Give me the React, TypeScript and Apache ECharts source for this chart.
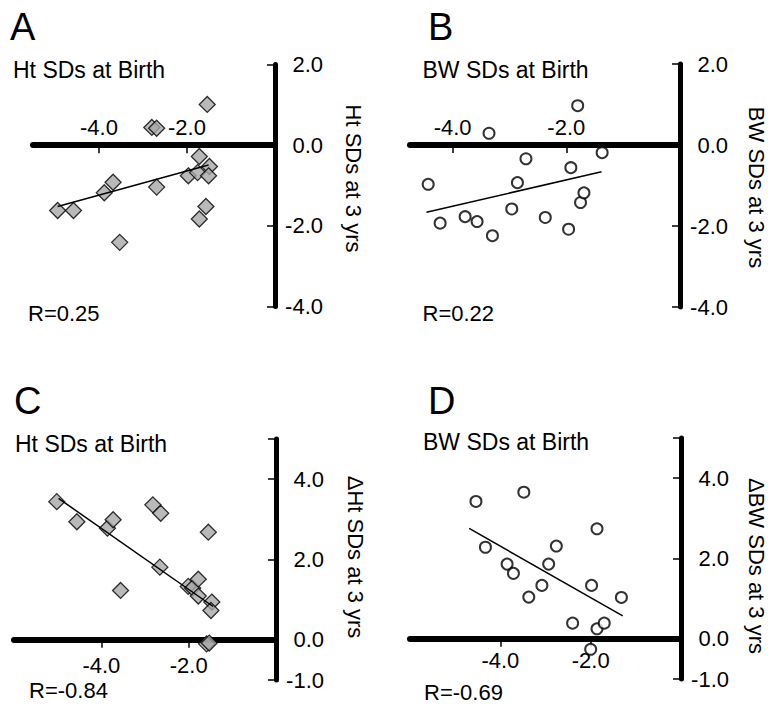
import React, { useEffect, useRef } from "react";
import * as echarts from "echarts";

// Panel A: Ht SDs at Birth vs Ht SDs at 3 yrs
const aX = [-4.94, -4.58, -3.88, -3.68, -3.53, -2.8, -2.69, -2.69, -1.97, -1.72, -1.76, -1.49, -1.51, -1.54, -1.57, -1.72];
const aY = [-1.62, -1.62, -1.18, -0.92, -2.41, 0.44, 0.42, -1.04, -0.76, -0.28, -0.68, -0.53, -0.76, 1.01, -1.52, -1.83];
const aFitX = [-4.94, -1.51];
const aFitY = [-1.52, -0.49];

// Panel B: BW SDs at Birth vs BW SDs at 3 yrs
const bX = [-4.43, -4.22, -3.78, -3.57, -3.36, -3.3, -2.96, -2.86, -2.71, -2.37, -1.96, -1.92, -1.8, -1.75, -1.69, -1.37];
const bY = [-0.97, -1.93, -1.77, -1.89, 0.29, -2.24, -1.58, -0.93, -0.34, -1.79, -2.08, -0.56, 0.97, -1.42, -1.18, -0.19];
const bFitX = [-4.46, -1.38];
const bFitY = [-1.66, -0.66];

// Panel C: Ht SDs at Birth vs ΔHt SDs at 3 yrs
const cX = [-5.02, -4.56, -3.86, -3.73, -3.56, -2.82, -2.64, -2.66, -2.01, -1.91, -1.78, -1.78, -1.55, -1.47, -1.49, -1.59, -1.53];
const cY = [3.44, 2.94, 2.78, 2.99, 1.23, 3.36, 3.15, 1.81, 1.33, 1.29, 1.51, 1.09, 2.68, 0.94, 0.73, -0.1, -0.08];
const cFitX = [-4.98, -1.44];
const cFitY = [3.52, 0.83];

// Panel D: BW SDs at Birth vs ΔBW SDs at 3 yrs
const dX = [-4.54, -4.33, -3.85, -3.71, -3.48, -3.37, -3.08, -2.93, -2.76, -2.4, -2.0, -1.98, -1.86, -1.86, -1.7, -1.32];
const dY = [3.42, 2.28, 1.86, 1.63, 3.65, 1.04, 1.33, 1.86, 2.31, 0.39, -0.26, 1.33, 2.74, 0.25, 0.39, 1.03];
const dFitX = [-4.69, -1.29];
const dFitY = [2.75, 0.57];

// Axis ranges, ticks and labels
const xMins = [-5.5, -4.75, -6, -6];
const yRangeTop = [-4, 2];
const yRangeBottom = [-1, 5];
const xTicks = [-4, -2];
const yTicksTop = [-4, -2, 0, 2];
const yLabelsTop = [-4, -2, 0, 2];
const yTicksBottom = [-1, 0, 2, 4, 5];
const yLabelsBottom = [-1, 0, 2, 4];

const FONT = "'Liberation Sans', Arial, Helvetica, sans-serif";

const zip = (xs: number[], ys: number[]) => xs.map((x, i) => [x, ys[i]]);

export default function App() {
  const ref = useRef<HTMLDivElement>(null);
  useEffect(() => {
    if (!ref.current) return;
    const chart = echarts.init(ref.current, undefined, { renderer: "svg" });

    const fmt = (v: number) => v.toFixed(1);

    const grids = [
      { left: 33, top: 64.5, width: 242, height: 242 },
      { left: 410, top: 64, width: 270, height: 243 },
      { left: 14, top: 439, width: 262, height: 241 },
      { left: 410, top: 438, width: 271, height: 241 },
    ];
    const xInside = [true, true, false, false];
    const xMargins = [7, 7, 15, 11];

    const xAxes = grids.map((g, i) => {
      const yr = i < 2 ? yRangeTop : yRangeBottom;
      // move the bottom axis up to y = 0
      const offset = -(g.height * (0 - yr[0])) / (yr[1] - yr[0]);
      return {
        gridIndex: i,
        type: "value",
        min: xMins[i],
        max: 0,
        position: "bottom",
        offset,
        axisLine: { show: true, onZero: false, lineStyle: { color: "#000", width: 6 } },
        axisTick: {
          show: true,
          inside: false,
          length: 8,
          customValues: xTicks,
          lineStyle: { color: "#000", width: 1.5 },
        },
        axisLabel: {
          show: true,
          inside: xInside[i],
          margin: xMargins[i],
          customValues: xTicks,
          formatter: fmt,
          color: "#000",
          fontSize: 22,
          fontFamily: FONT,
        },
        splitLine: { show: false },
      };
    });

    const yAxes = grids.map((_, i) => {
      const top = i < 2;
      const yr = top ? yRangeTop : yRangeBottom;
      return {
        gridIndex: i,
        type: "value",
        min: yr[0],
        max: yr[1],
        position: "right",
        axisLine: { show: true, onZero: false, lineStyle: { color: "#000", width: 5 } },
        axisTick: {
          show: true,
          inside: true,
          length: 8,
          customValues: top ? yTicksTop : yTicksBottom,
          lineStyle: { color: "#000", width: 1.5 },
        },
        axisLabel: {
          show: true,
          customValues: top ? yLabelsTop : yLabelsBottom,
          formatter: fmt,
          align: "right",
          margin: 48,
          color: "#000",
          fontSize: 22,
          fontFamily: FONT,
        },
        splitLine: { show: false },
      };
    });

    const diamondStyle = { color: "#a8a8a8", borderColor: "#000", borderWidth: 1.3 };
    const circleStyle = { color: "#fff", borderColor: "#000", borderWidth: 2 };

    const panels = [
      { xs: aX, ys: aY, fx: aFitX, fy: aFitY, symbol: "diamond", size: 16, style: diamondStyle },
      { xs: bX, ys: bY, fx: bFitX, fy: bFitY, symbol: "circle", size: 11, style: circleStyle },
      { xs: cX, ys: cY, fx: cFitX, fy: cFitY, symbol: "diamond", size: 16, style: diamondStyle },
      { xs: dX, ys: dY, fx: dFitX, fy: dFitY, symbol: "circle", size: 11, style: circleStyle },
    ];

    const series: any[] = [];
    panels.forEach((p, i) => {
      series.push({
        type: "scatter",
        xAxisIndex: i,
        yAxisIndex: i,
        data: zip(p.xs, p.ys),
        symbol: p.symbol,
        symbolSize: p.size,
        itemStyle: p.style,
        z: 2,
      });
      series.push({
        type: "line",
        xAxisIndex: i,
        yAxisIndex: i,
        data: zip(p.fx, p.fy),
        symbol: "none",
        lineStyle: { color: "#000", width: 1.5 },
        z: 3,
      });
    });

    const txt = (text: string, x: number, y: number, size: number, rot = 0, align = "left") => ({
      type: "text",
      x,
      y,
      rotation: rot,
      silent: true,
      style: {
        text,
        fill: "#000",
        fontSize: size,
        fontFamily: FONT,
        align,
        verticalAlign: "middle",
      },
    });

    const R = -Math.PI / 2;
    const graphic = [
      txt("A", 10, 26.7, 38),
      txt("B", 428, 26.7, 38),
      txt("C", 14, 400.5, 38),
      txt("D", 428, 400.5, 38),
      txt("Ht SDs at Birth", 13, 69.5, 23),
      txt("BW SDs at Birth", 422.5, 70, 23),
      txt("Ht SDs at Birth", 15, 443.7, 23),
      txt("BW SDs at Birth", 423, 441.5, 23),
      txt("R=0.25", 28, 313.8, 22),
      txt("R=0.22", 422.5, 313.3, 22),
      txt("R=-0.84", 29, 690.5, 22),
      txt("R=-0.69", 424, 692.5, 22),
      txt("Ht SDs at 3 yrs", 353, 178.5, 22, R, "center"),
      txt("BW SDs at 3 yrs", 756.5, 187.5, 22, R, "center"),
      txt("ΔHt SDs at 3 yrs", 355, 557, 22, R, "center"),
      txt("ΔBW SDs at 3 yrs", 756.5, 566, 22, R, "center"),
    ];

    chart.setOption({
      animation: false,
      backgroundColor: "#fff",
      textStyle: { fontFamily: FONT },
      grid: grids,
      xAxis: xAxes,
      yAxis: yAxes,
      series,
      graphic,
    });

    return () => chart.dispose();
  }, []);

  return (
    <div
      ref={ref}
      style={{ position: "absolute", left: 0, top: 0, width: 772, height: 706, background: "#fff" }}
    />
  );
}
